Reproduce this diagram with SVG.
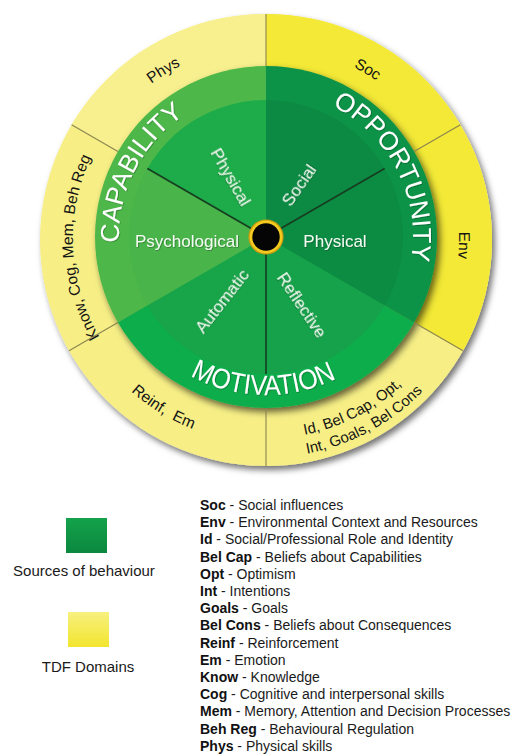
<svg xmlns="http://www.w3.org/2000/svg" xmlns:xlink="http://www.w3.org/1999/xlink" width="516" height="754" viewBox="0 0 516 754">
<style>
.yl{font-family:"Liberation Sans",Arial,sans-serif;font-size:15.5px;fill:#141414}
.ys{font-family:"Liberation Sans",Arial,sans-serif;font-size:15px;fill:#141414}
.big{font-family:"Liberation Sans",Arial,sans-serif;fill:#fff;filter:url(#ts)}
.sec{font-family:"Liberation Sans",Arial,sans-serif;font-size:17px;fill:#f4fbf2;text-anchor:middle;filter:url(#ts)}
.lg{font-family:"Liberation Sans",Arial,sans-serif;font-size:14px;fill:#1a1a1a}
.b{font-weight:bold;fill:#111}
.cap{font-family:"Liberation Sans",Arial,sans-serif;font-size:15px;fill:#1a1a1a;text-anchor:middle}
.div{stroke:#8a8450;stroke-width:1.1;fill:none}
.spoke{stroke:#163d1f;stroke-width:1.6;fill:none}
</style>
<defs>
<filter id="sh" x="-10%" y="-10%" width="125%" height="125%"><feDropShadow dx="3" dy="4" stdDeviation="3" flood-color="#000" flood-opacity="0.55"/></filter>
<filter id="sh2" x="-10%" y="-10%" width="125%" height="125%"><feDropShadow dx="3" dy="4" stdDeviation="3.5" flood-color="#000" flood-opacity="0.6"/></filter>
<filter id="ts" x="-10%" y="-30%" width="120%" height="160%"><feDropShadow dx="0.7" dy="0.7" stdDeviation="0.5" flood-color="#000" flood-opacity="0.35"/></filter>
<clipPath id="yc"><circle cx="266" cy="240" r="226"/></clipPath>
<linearGradient id="gg" x1="0" y1="0" x2="0" y2="1"><stop offset="0" stop-color="#14a24b"/><stop offset="1" stop-color="#0b883f"/></linearGradient>
<linearGradient id="yg" x1="0" y1="0" x2="0" y2="1"><stop offset="0" stop-color="#f7f07f"/><stop offset="1" stop-color="#f2e52e"/></linearGradient>
<path id="ycw" d="M266,432 A193,193 0 1 1 266,46 A193,193 0 1 1 266,432"/>
<path id="yccwA" d="M62.5,239 A203.5,203.5 0 1 0 469.5,239 A203.5,203.5 0 1 0 62.5,239"/>
<path id="yccw1" d="M66.5,239 A199.5,199.5 0 1 0 465.5,239 A199.5,199.5 0 1 0 66.5,239"/>
<path id="yccw2" d="M47.5,239 A218.5,218.5 0 1 0 484.5,239 A218.5,218.5 0 1 0 47.5,239"/>
<path id="gcw" d="M266,384 A147,147 0 1 1 266,90 A147,147 0 1 1 266,384"/>
<path id="gccw" d="M108,237 A158,158 0 1 0 424,237 A158,158 0 1 0 108,237"/>
</defs>

<!-- TDF domains ring -->
<g id="tdf-ring">
<circle cx="266" cy="240" r="226" fill="#f7ef86" filter="url(#sh)"/>
<g clip-path="url(#yc)">
<path d="M266,237 L266,-163 L612.4,37 L612.4,437 Z" fill="#f3e936"/>
<path d="M266,237 L62.5,119.5 L266,-163 Z" fill="#f8f08e"/>
</g>
</g>

<!-- domain labels -->
<g id="dom-phys"><text class="yl" text-anchor="middle"><textPath href="#ycw" xlink:href="#ycw" startOffset="41.3%">Phys</textPath></text></g>
<g id="dom-soc"><text class="yl" text-anchor="middle"><textPath href="#ycw" xlink:href="#ycw" startOffset="58.6%">Soc</textPath></text></g>
<g id="dom-env"><text class="yl" text-anchor="middle"><textPath href="#ycw" xlink:href="#ycw" startOffset="75.5%">Env</textPath></text></g>
<g id="dom-know"><text class="yl" text-anchor="middle"><textPath href="#ycw" xlink:href="#ycw" startOffset="24.25%">Know, Cog, Mem, Beh Reg</textPath></text></g>
<g id="dom-reinf"><text class="yl" text-anchor="middle" xml:space="preserve"><textPath href="#yccwA" xlink:href="#yccwA" startOffset="16.3%">Reinf,  Em</textPath></text></g>
<g id="dom-id">
<text class="ys"><textPath href="#yccw1" xlink:href="#yccw1" startOffset="28.1%">Id, Bel Cap, Opt,</textPath></text>
<text class="ys"><textPath href="#yccw2" xlink:href="#yccw2" startOffset="28.0%">Int, Goals, Bel Cons</textPath></text>
</g>

<!-- sources of behaviour (outer green ring) -->
<g id="sources" filter="url(#sh2)">
<g id="ring-capability"><path d="M266,237 L117.91,322.5 A171,171 0 0 1 266,66 Z" fill="#4db848"/></g>
<g id="ring-opportunity"><path d="M266,237 L266,66 A171,171 0 0 1 414.09,322.5 Z" fill="#0f9346"/></g>
<g id="ring-motivation"><path d="M266,237 L414.09,322.5 A171,171 0 0 1 117.91,322.5 Z" fill="#0cad4c"/></g>
</g>

<!-- inner sectors -->
<g id="sec-cap-physical"><path d="M266,237 L147.35,168.5 A137,137 0 0 1 266,100 Z" fill="#1eab4a"/></g>
<g id="sec-social"><path d="M266,237 L266,100 A137,137 0 0 1 384.65,168.5 Z" fill="#0c8a43"/></g>
<g id="sec-opp-physical"><path d="M266,237 L384.65,168.5 A137,137 0 0 1 384.65,305.5 Z" fill="#0c8b43"/></g>
<g id="sec-reflective"><path d="M266,237 L384.65,305.5 A137,137 0 0 1 266,374 Z" fill="#15a24a"/></g>
<g id="sec-automatic"><path d="M266,237 L266,374 A137,137 0 0 1 147.35,305.5 Z" fill="#18a449"/></g>
<g id="sec-psychological"><path d="M266,237 L147.35,305.5 A137,137 0 0 1 147.35,168.5 Z" fill="#48b449"/></g>

<!-- divider lines -->
<g id="connectors">
<g clip-path="url(#yc)">
<line class="div" x1="266" y1="66" x2="266" y2="2"/>
<line class="div" x1="414.09" y1="151.5" x2="469.5" y2="119.5"/>
<line class="div" x1="414.09" y1="322.5" x2="469.5" y2="354.5"/>
<line class="div" x1="266" y1="408" x2="266" y2="472"/>
<line class="div" x1="117.91" y1="322.5" x2="62.5" y2="354.5"/>
<line class="div" x1="117.91" y1="151.5" x2="62.5" y2="119.5"/>
</g>
<line class="spoke" x1="266" y1="237" x2="147.35" y2="168.5"/>
<line class="spoke" x1="266" y1="237" x2="384.65" y2="168.5"/>
<line class="spoke" x1="266" y1="237" x2="266" y2="374"/>
</g>

<!-- ring titles -->
<g id="title-capability"><text class="big" font-size="26" text-anchor="middle"><textPath href="#gcw" xlink:href="#gcw" startOffset="32.5%" textLength="150" lengthAdjust="spacingAndGlyphs">CAPABILITY</textPath></text></g>
<g id="title-opportunity"><text class="big" font-size="26" text-anchor="middle"><textPath href="#gcw" xlink:href="#gcw" startOffset="67.5%" textLength="186" lengthAdjust="spacingAndGlyphs">OPPORTUNITY</textPath></text></g>
<g id="title-motivation"><text class="big" font-size="28" text-anchor="middle"><textPath href="#gccw" xlink:href="#gccw" startOffset="24.7%" textLength="152" lengthAdjust="spacingAndGlyphs">MOTIVATION</textPath></text></g>

<!-- sector labels -->
<g id="lbl-cap-physical"><text class="sec" transform="translate(231,177) rotate(60)" y="6">Physical</text></g>
<g id="lbl-social"><text class="sec" transform="translate(299,185) rotate(-55)" y="6">Social</text></g>
<g id="lbl-psychological"><text class="sec" x="187" y="247">Psychological</text></g>
<g id="lbl-opp-physical"><text class="sec" x="335" y="247">Physical</text></g>
<g id="lbl-automatic"><text class="sec" transform="translate(222,301) rotate(-52)" y="6">Automatic</text></g>
<g id="lbl-reflective"><text class="sec" transform="translate(302,305) rotate(56)" y="6">Reflective</text></g>

<!-- hub -->
<g id="hub">
<circle cx="266" cy="237" r="17.6" fill="#c99a12"/>
<circle cx="266" cy="237" r="16.4" fill="#f2cb1e"/>
<circle cx="266" cy="237" r="13.7" fill="#050505"/>
</g>

<!-- legend -->
<g id="legend-sources">
<rect x="66" y="518" width="41" height="35" fill="url(#gg)"/>
<text class="cap" x="84" y="576">Sources of behaviour</text>
</g>
<g id="legend-tdf">
<rect x="68" y="612" width="41" height="35" fill="url(#yg)"/>
<text class="cap" x="88" y="672">TDF Domains</text>
</g>
<g id="legend-list">
<text class="lg" x="200" y="510"><tspan class="b">Soc</tspan> - Social influences</text>
<text class="lg" x="200" y="527.2"><tspan class="b">Env</tspan> - Environmental Context and Resources</text>
<text class="lg" x="200" y="544.4"><tspan class="b">Id</tspan> - Social/Professional Role and Identity</text>
<text class="lg" x="200" y="561.6"><tspan class="b">Bel Cap</tspan> - Beliefs about Capabilities</text>
<text class="lg" x="200" y="578.8"><tspan class="b">Opt</tspan> - Optimism</text>
<text class="lg" x="200" y="596"><tspan class="b">Int</tspan> - Intentions</text>
<text class="lg" x="200" y="613.2"><tspan class="b">Goals</tspan> - Goals</text>
<text class="lg" x="200" y="630.4"><tspan class="b">Bel Cons</tspan> - Beliefs about Consequences</text>
<text class="lg" x="200" y="647.6"><tspan class="b">Reinf</tspan> - Reinforcement</text>
<text class="lg" x="200" y="664.8"><tspan class="b">Em</tspan> - Emotion</text>
<text class="lg" x="200" y="682"><tspan class="b">Know</tspan> - Knowledge</text>
<text class="lg" x="200" y="699.2"><tspan class="b">Cog</tspan> - Cognitive and interpersonal skills</text>
<text class="lg" x="200" y="716.4"><tspan class="b">Mem</tspan> - Memory, Attention and Decision Processes</text>
<text class="lg" x="200" y="733.6"><tspan class="b">Beh Reg</tspan> - Behavioural Regulation</text>
<text class="lg" x="200" y="750.8"><tspan class="b">Phys</tspan> - Physical skills</text>
</g>
</svg>
